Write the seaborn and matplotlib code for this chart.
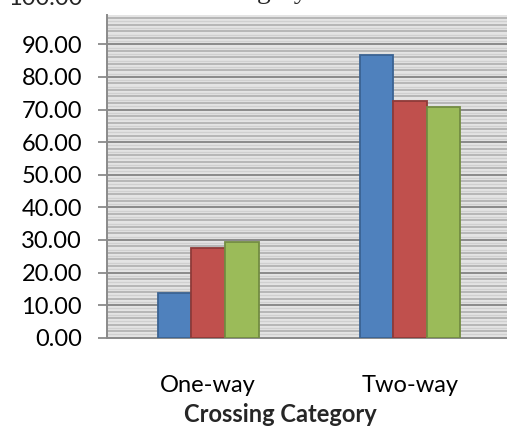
import matplotlib
matplotlib.use("Agg")
import matplotlib.pyplot as plt
import numpy as np
import pandas as pd
import seaborn as sns

categories = ["One-way", "Two-way"]
series_names = ["Series 1", "Series 2", "Series 3"]
series_1 = [13.8, 86.7]
series_2 = [27.6, 72.7]
series_3 = [29.3, 70.9]
y_ticks = [0, 10, 20, 30, 40, 50, 60, 70, 80, 90]
y_tick_labels = [f"{v:.2f}" for v in y_ticks]

df = pd.DataFrame({
    "category": categories * 3,
    "series": [series_names[0]] * 2 + [series_names[1]] * 2 + [series_names[2]] * 2,
    "value": series_1 + series_2 + series_3,
})

sns.set_theme(style="white")
plt.rcParams["font.family"] = ["Lato", "DejaVu Sans"]

W, H = 507, 434
fig = plt.figure(figsize=(W / 100, H / 100), dpi=100)
ax_left, ax_bottom_px, ax_right, ax_top_px = 107, 337.7, 511, 15.3
ax = fig.add_axes([ax_left / W, (H - ax_bottom_px) / H,
                   (ax_right - ax_left) / W, (ax_bottom_px - ax_top_px) / H])

fills = ["#4F81BD", "#C0504D", "#9BBB59"]
edges = ["#3B6392", "#8F3A38", "#738C42"]

sns.barplot(data=df, x="category", y="value", hue="series", palette=fills,
            width=0.5, ax=ax, legend=False, zorder=3, saturation=1)
for i, container in enumerate(ax.containers):
    for bar in container:
        bar.set_edgecolor(edges[i])
        bar.set_linewidth(1.3)

ymax = 98.9
ax.set_ylim(0, ymax)
ax.set_xlim(-0.5, 1.5)

# patterned plot background: light grey with fine horizontal stripes
ax.set_facecolor("#e4e4e4")
for v in np.arange(1, ymax, 2):
    ax.axhline(v, color="#d0d0d0", lw=1.0, zorder=0.5)
for v in np.arange(2, ymax, 2):
    if v % 10:
        ax.axhline(v, color="#b3b3b3", lw=1.3, zorder=0.6)
for v in y_ticks[1:]:
    ax.axhline(v, color="#8a8a8a", lw=1.4, zorder=0.7)

ax.set_yticks(y_ticks)
ax.set_yticklabels(y_tick_labels)
ax.tick_params(axis="y", which="major", length=6.5, width=1.3, color="#8a8a8a",
               direction="out", labelsize=17, pad=11.5, left=True)
ax.tick_params(axis="x", length=0, labelsize=17, pad=27)
for lab in ax.get_yticklabels() + ax.get_xticklabels():
    lab.set_color("black")

# top label of the value scale, partly above the figure edge
fig.text(82 / W, (H + 1.5) / H, "100.00", ha="right", va="center", fontsize=17)

for side in ["top", "right"]:
    ax.spines[side].set_visible(False)
for side in ["left", "bottom"]:
    ax.spines[side].set_color("#8a8a8a")
    ax.spines[side].set_linewidth(1.4)

ax.set_xlabel("")
ax.set_ylabel("")
fig.text(280 / W, (H - 415) / H, "Crossing Category", ha="center", va="center",
         fontsize=17, fontweight="bold")
fig.text(258 / W, (H + 2) / H, "Category", ha="center", va="baseline",
         fontsize=20, family=["Liberation Serif", "DejaVu Serif"])

fig.savefig("out.png", dpi=100, facecolor="white")
